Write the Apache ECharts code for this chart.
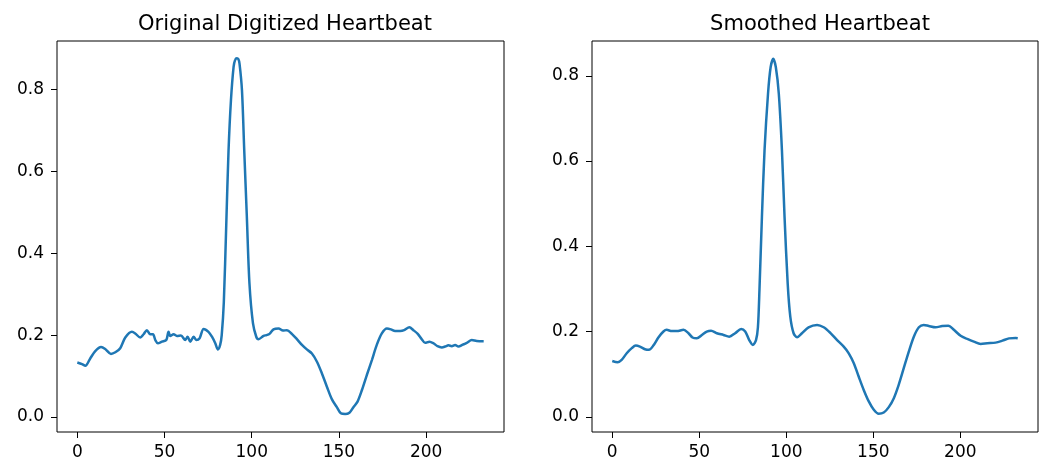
<!DOCTYPE html>
<html>
<head>
<meta charset="utf-8">
<script src="https://cdn.jsdelivr.net/npm/echarts@6/dist/echarts.min.js"></script>
<style>
  html, body { margin: 0; padding: 0; background: #fff; }
  #chart { width: 1046px; height: 462px; }
</style>
</head>
<body>
<div id="chart"></div>
<script>
// titles
var titles = ['Original Digitized Heartbeat', 'Smoothed Heartbeat'];
var xTicks = [0, 50, 100, 150, 200];
var yTicks = [0, 0.2, 0.4, 0.6, 0.8];

var rawX = [0, 2.7, 4.6, 7.4, 10.3, 13.6, 16, 19.3, 21.8, 24.6, 27.5, 31.3, 33.2, 36.1, 38, 39.9, 41.8, 43.4, 44.7, 46.2,
  48.5, 51, 52.3, 53.3, 55.2, 57.1, 59.4, 61.9, 63.2, 64.8, 66.7, 68.2, 70.1, 72.4, 75.2, 77.2, 79.1, 80.6, 81.9, 82.8,
  84, 85.4, 86.7, 88.1, 89.6, 90.5, 91.5, 92.3, 93, 94.4, 95.7, 97.2, 98.7, 100.7, 102.6, 103.9, 106.8, 108.5, 110.2, 112.5,
  115.4, 117.9, 120.2, 123, 125.9, 128.8, 131.6, 134.5, 137.4, 140.2, 143.1, 146, 148.8, 151.1, 153.6, 156, 158.3, 160.6, 163.2, 166,
  168.9, 171.7, 174.6, 177.5, 179.8, 182.2, 185.1, 187.4, 190.4, 192.7, 195.2, 197.5, 199.4, 201.9, 204.2, 206.5, 209, 210.9, 212.8, 214.7,
  216.6, 218.5, 221, 223.3, 226.2, 229, 233];
var rawY = [0.133, 0.129, 0.125, 0.143, 0.161, 0.171, 0.166, 0.154, 0.158, 0.168, 0.194, 0.208, 0.204, 0.194, 0.202, 0.212, 0.202, 0.202, 0.188, 0.18,
  0.184, 0.188, 0.208, 0.198, 0.202, 0.198, 0.199, 0.188, 0.196, 0.184, 0.196, 0.188, 0.192, 0.215, 0.208, 0.196, 0.18, 0.165, 0.176, 0.2,
  0.28, 0.47, 0.65, 0.774, 0.855, 0.872, 0.876, 0.874, 0.863, 0.798, 0.652, 0.489, 0.326, 0.229, 0.196, 0.19, 0.198, 0.2, 0.203, 0.214,
  0.216, 0.211, 0.212, 0.203, 0.19, 0.176, 0.165, 0.155, 0.135, 0.107, 0.074, 0.043, 0.024, 0.009, 0.0073, 0.0105, 0.024, 0.037, 0.066, 0.1025,
  0.139, 0.176, 0.204, 0.216, 0.214, 0.21, 0.21, 0.212, 0.219, 0.212, 0.203, 0.19, 0.181, 0.184, 0.18, 0.173, 0.17, 0.172, 0.175, 0.173,
  0.176, 0.172, 0.1765, 0.181, 0.188, 0.1855, 0.185];

// smoothed trace
var smoothX = [0, 3.1, 5.4, 8.3, 11.2, 13.5, 15.9, 18.8, 21.1, 23.6, 26.5, 29.4, 31.3, 34.2, 37.1, 40.9, 43.8, 46.1, 48.6, 51.5,
  54.3, 56.8, 60.1, 63.9, 67.2, 70.6, 74.1, 76.4, 78.7, 80.8, 82.6, 83.7, 84.6, 86, 87.5, 89.5, 91, 92.5, 94, 95.7,
  97.5, 99, 100.8, 102.3, 104.2, 106.2, 109, 112.8, 117.7, 121.5, 125.3, 129.2, 133, 135.9, 138.8, 141.6, 144.5, 147.4, 150.3, 153.1,
  156, 158.9, 161.8, 164.6, 167.5, 170.4, 173.3, 176.2, 179, 181.9, 185.8, 189.6, 193.1, 196.3, 200.2, 204, 207.8, 211.7, 215.5, 220.3,
  224.2, 228, 231.8, 233];
var smoothY = [0.131, 0.128, 0.1335, 0.149, 0.161, 0.167, 0.1646, 0.1585, 0.157, 0.167, 0.186, 0.2, 0.204, 0.201, 0.201, 0.204, 0.196, 0.186, 0.184, 0.192,
  0.2, 0.202, 0.196, 0.192, 0.188, 0.196, 0.206, 0.2, 0.18, 0.1686, 0.18, 0.21, 0.3, 0.469, 0.625, 0.758, 0.82, 0.84, 0.82, 0.758,
  0.625, 0.469, 0.313, 0.235, 0.196, 0.1866, 0.196, 0.21, 0.2155, 0.21, 0.197, 0.18, 0.1646, 0.149, 0.1257, 0.0944, 0.063, 0.036, 0.0164, 0.007,
  0.01, 0.0227, 0.0437, 0.075, 0.114, 0.153, 0.188, 0.21, 0.2155, 0.213, 0.21, 0.213, 0.2138, 0.204, 0.19, 0.1826, 0.1763, 0.171, 0.1725, 0.174,
  0.1786, 0.184, 0.185, 0.1845];

function zip(xs, ys) {
  var out = [];
  for (var i = 0; i < xs.length; i++) out.push([xs[i], ys[i]]);
  return out;
}

var font = 'DejaVu Sans';
var grids = [
  { left: 57, top: 41, width: 447, height: 391 },
  { left: 592, top: 41, width: 446, height: 391 }
];
var yRanges = [[-0.0366, 0.918], [-0.0357, 0.8817]];

function makeX(i) {
  return {
    type: 'value', gridIndex: i, min: -11.65, max: 244.65,
    axisLine: { show: false, onZero: false },
    splitLine: { show: false },
    axisTick: { show: true, customValues: xTicks, length: 6, lineStyle: { color: '#000', width: 1 } },
    axisLabel: { customValues: xTicks, color: '#000', fontFamily: font, fontSize: 17, margin: 12 }
  };
}
function makeY(i) {
  return {
    type: 'value', gridIndex: i, min: yRanges[i][0], max: yRanges[i][1],
    axisLine: { show: false, onZero: false },
    splitLine: { show: false },
    axisTick: { show: true, customValues: yTicks, length: 6, lineStyle: { color: '#000', width: 1 } },
    axisLabel: {
      customValues: yTicks, color: '#000', fontFamily: font, fontSize: 17, margin: 13,
      formatter: function (v) { return v.toFixed(1); }
    }
  };
}

var chart = echarts.init(document.getElementById('chart'));
chart.setOption({
  animation: false,
  backgroundColor: '#fff',
  title: [
    { text: titles[0], left: 280, top: 9, textAlign: 'center',
      textStyle: { fontFamily: font, fontSize: 21, fontWeight: 'normal', color: '#000' } },
    { text: titles[1], left: 815, top: 9, textAlign: 'center',
      textStyle: { fontFamily: font, fontSize: 21, fontWeight: 'normal', color: '#000' } }
  ],
  grid: grids.map(function (g) {
    return Object.assign({ show: true, borderColor: '#000', borderWidth: 1, outerBoundsMode: 'none', containLabel: false }, g);
  }),
  xAxis: [makeX(0), makeX(1)],
  yAxis: [makeY(0), makeY(1)],
  series: [
    { type: 'line', xAxisIndex: 0, yAxisIndex: 0, data: zip(rawX, rawY), showSymbol: false, smooth: 0.3,
      lineStyle: { color: '#1f77b4', width: 2.5 } },
    { type: 'line', xAxisIndex: 1, yAxisIndex: 1, data: zip(smoothX, smoothY), showSymbol: false, smooth: 0.3,
      lineStyle: { color: '#1f77b4', width: 2.5 } }
  ]
});
</script>
</body>
</html>
